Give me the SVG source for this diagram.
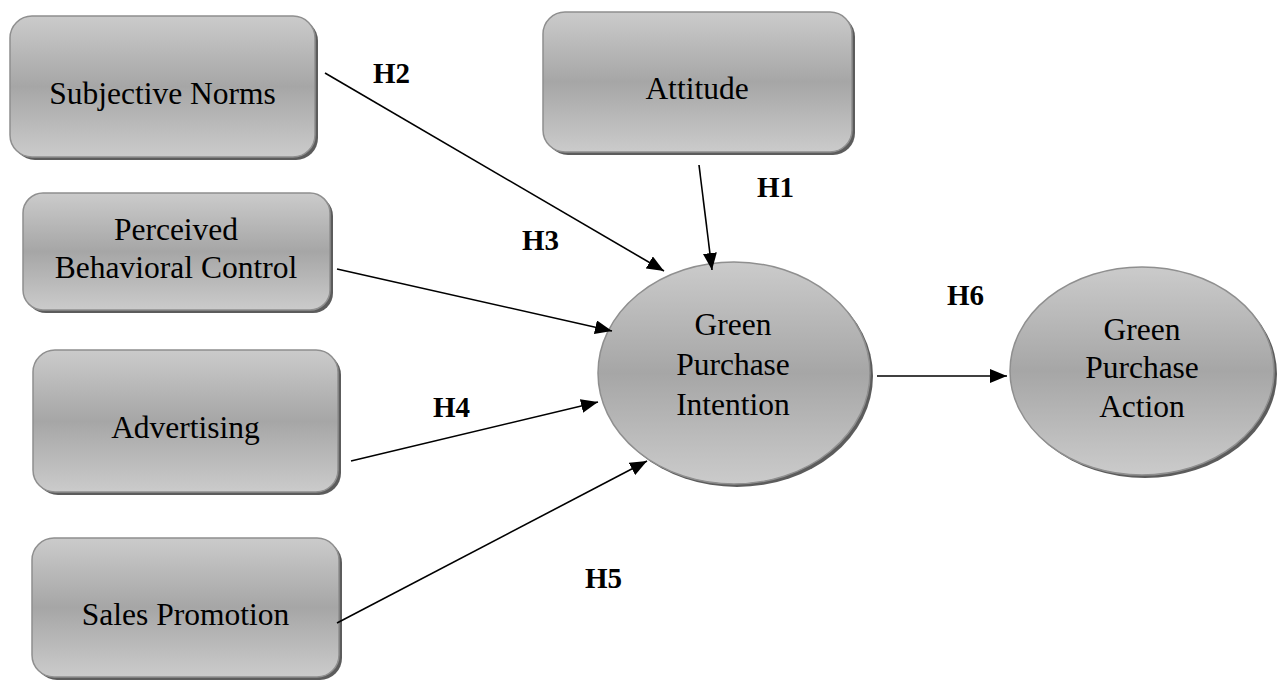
<svg xmlns="http://www.w3.org/2000/svg" width="1279" height="681" viewBox="0 0 1279 681">
<defs>
<linearGradient id="g" x1="0" y1="0" x2="0" y2="1">
<stop offset="0" stop-color="#cbcbcb"/>
<stop offset="0.5" stop-color="#a6a6a6"/>
<stop offset="1" stop-color="#cbcbcb"/>
</linearGradient>
<marker id="ah" markerUnits="userSpaceOnUse" markerWidth="18" markerHeight="14" viewBox="0 0 18 14" refX="17" refY="7" orient="auto">
<path d="M0,0 L17,7 L0,14 Z" fill="#000"/>
</marker>
<style>
.box{fill:url(#g);stroke:#8f8f8f;stroke-width:1.5}
.sh{fill:#5c5c5c}
.t{font-family:"Liberation Serif","Times New Roman",serif;font-size:31.5px;fill:#000;text-anchor:middle}
.h{font-family:"Liberation Serif","Times New Roman",serif;font-size:29px;font-weight:bold;fill:#000}
.c{stroke:#000;stroke-width:1.6;fill:none;marker-end:url(#ah)}
</style>
</defs>
<rect width="1279" height="681" fill="#fff"/>

<g id="subjective-norms">
<rect class="sh" x="13" y="19" width="305" height="141" rx="22"/>
<rect class="box" x="10" y="16" width="305" height="141" rx="22"/>
<text class="t" x="162.5" y="104">Subjective Norms</text>
</g>

<g id="attitude">
<rect class="sh" x="546" y="15" width="309" height="140" rx="22"/>
<rect class="box" x="543" y="12" width="309" height="140" rx="22"/>
<text class="t" x="697" y="99">Attitude</text>
</g>

<g id="perceived-behavioral-control">
<rect class="sh" x="26" y="196" width="307" height="117" rx="20"/>
<rect class="box" x="23" y="193" width="307" height="117" rx="20"/>
<text class="t" x="176" y="240">Perceived</text>
<text class="t" x="176" y="278">Behavioral Control</text>
</g>

<g id="advertising">
<rect class="sh" x="36" y="353" width="305" height="142" rx="22"/>
<rect class="box" x="33" y="350" width="305" height="142" rx="22"/>
<text class="t" x="185.5" y="438">Advertising</text>
</g>

<g id="sales-promotion">
<rect class="sh" x="35" y="541" width="307" height="139" rx="22"/>
<rect class="box" x="32" y="538" width="307" height="139" rx="22"/>
<text class="t" x="185.5" y="625">Sales Promotion</text>
</g>

<g id="green-purchase-intention">
<ellipse class="sh" cx="737" cy="376" rx="136" ry="111"/>
<ellipse class="box" cx="734" cy="373" rx="136" ry="111"/>
<text class="t" x="733" y="335">Green</text>
<text class="t" x="733" y="375">Purchase</text>
<text class="t" x="733" y="415">Intention</text>
</g>

<g id="green-purchase-action">
<ellipse class="sh" cx="1145" cy="374" rx="132" ry="104"/>
<ellipse class="box" cx="1142" cy="371" rx="132" ry="104"/>
<text class="t" x="1142" y="340">Green</text>
<text class="t" x="1142" y="378">Purchase</text>
<text class="t" x="1142" y="417">Action</text>
</g>

<g id="connectors">
<line class="c" x1="325" y1="73" x2="664" y2="271"/>
<line class="c" x1="699" y1="165" x2="712" y2="270"/>
<line class="c" x1="337" y1="269" x2="612" y2="331"/>
<line class="c" x1="351" y1="461" x2="598" y2="402"/>
<line class="c" x1="337" y1="623" x2="647" y2="461"/>
<line class="c" x1="877" y1="376" x2="1007" y2="376"/>
</g>

<g id="labels">
<text class="h" x="373" y="83">H2</text>
<text class="h" x="757" y="197">H1</text>
<text class="h" x="522" y="250">H3</text>
<text class="h" x="433" y="417">H4</text>
<text class="h" x="585" y="588">H5</text>
<text class="h" x="947" y="305">H6</text>
</g>
</svg>
